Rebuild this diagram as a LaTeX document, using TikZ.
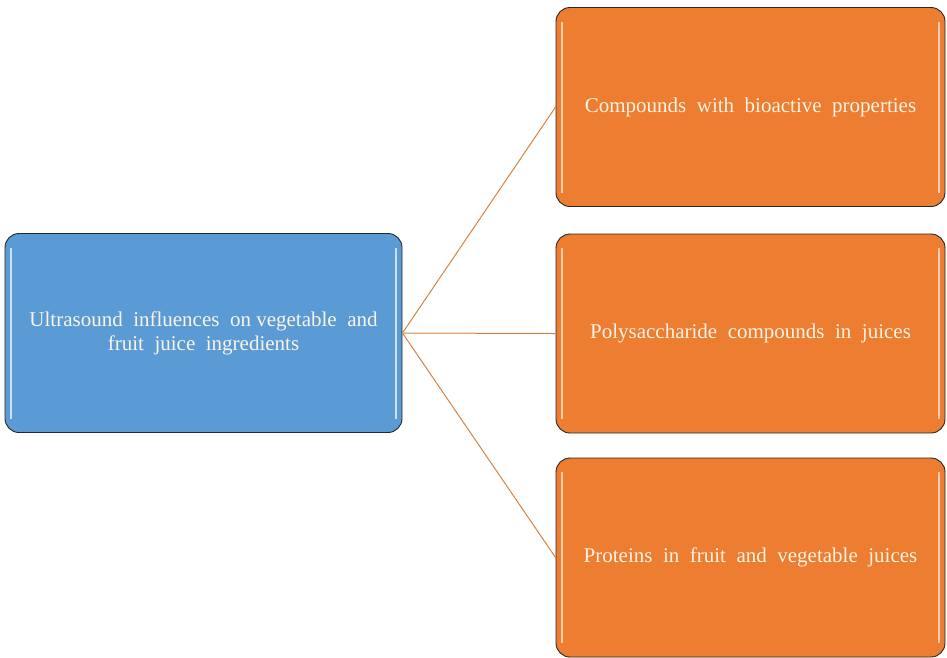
\documentclass[tikz,border=0pt]{standalone}
\usepackage{fontspec}
\setmainfont{Liberation Serif}
\definecolor{boxblue}{HTML}{5B9BD5}
\definecolor{boxorange}{HTML}{ED7D31}
\definecolor{linkbrown}{HTML}{D9823F}
\definecolor{textcream}{HTML}{FBF3E4}
\tikzset{
    mainbox/.style={draw=black!85, line width=0.9pt, rounded corners=14pt,
        fill=boxblue, text=textcream, align=center,
        minimum width=397pt, minimum height=199pt, inner sep=0pt,
        font=\fontsize{21}{24}\selectfont,
        path picture={
            \draw[white!70!boxblue, line width=2.5pt]
                ([xshift=6pt,yshift=-14pt]path picture bounding box.north west) --
                ([xshift=6pt,yshift=14pt]path picture bounding box.south west);
            \draw[white!70!boxblue, line width=2.5pt]
                ([xshift=-6pt,yshift=-14pt]path picture bounding box.north east) --
                ([xshift=-6pt,yshift=14pt]path picture bounding box.south east);
        }},
    subbox/.style={mainbox, fill=boxorange, minimum width=389pt,
        path picture={
            \draw[white!60!boxorange, line width=2.5pt]
                ([xshift=6pt,yshift=-14pt]path picture bounding box.north west) --
                ([xshift=6pt,yshift=14pt]path picture bounding box.south west);
            \draw[white!60!boxorange, line width=2.5pt]
                ([xshift=-6pt,yshift=-14pt]path picture bounding box.north east) --
                ([xshift=-6pt,yshift=14pt]path picture bounding box.south east);
        }},
    linkline/.style={draw=linkbrown, line width=1pt}
}
\begin{document}
\begin{tikzpicture}[x=1pt, y=1pt]

\useasboundingbox (0,0) rectangle (947,-657);

% 左:主题
\node[mainbox] (ultrasound) at (203.5,-333)
    {Ultrasound\ \ influences\ \ on vegetable\ \ and\\fruit\ \ juice\ \ ingredients};

% 右:三个分类
\node[subbox] (compounds) at (750.5,-107)
    {Compounds\ \ with\ \ bioactive\ \ properties};
\node[subbox] (polysacch) at (750.5,-333.5)
    {Polysaccharide\ \ compounds\ \ in\ \ juices};
\node[subbox] (proteins) at (750.5,-557.5)
    {Proteins\ \ in\ \ fruit\ \ and\ \ vegetable\ \ juices};

% 连线
\draw[linkline] (ultrasound.east) -- (compounds.west);
\draw[linkline] (ultrasound.east) -- (polysacch.west);
\draw[linkline] (ultrasound.east) -- (proteins.west);

\end{tikzpicture}
\end{document}
